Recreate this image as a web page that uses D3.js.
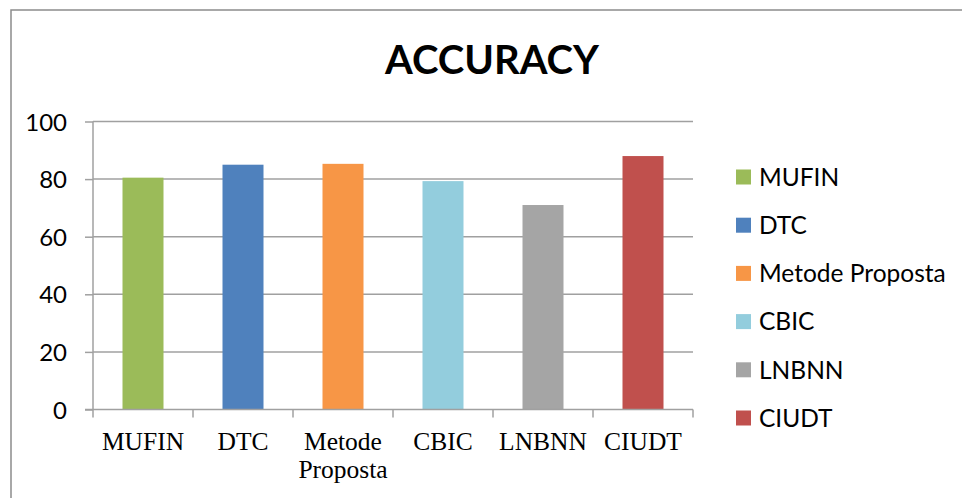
<!DOCTYPE html>
<html>
<head>
<meta charset="utf-8">
<script src="https://cdn.jsdelivr.net/npm/d3@7"></script>
<style>
  html, body { margin: 0; padding: 0; background: #fff; }
  svg { display: block; }
</style>
</head>
<body>
<svg id="chart" width="962" height="498"></svg>
<script>
const categories = ["MUFIN", "DTC", "Metode Proposta", "CBIC", "LNBNN", "CIUDT"];
const axisLabels = [["MUFIN"], ["DTC"], ["Metode", "Proposta"], ["CBIC"], ["LNBNN"], ["CIUDT"]];
const values = [80.5, 85, 85.3, 79.3, 71, 88];
const colors = ["#9BBB59", "#4F81BD", "#F79646", "#93CDDD", "#A5A5A5", "#C0504D"];
const yTicks = [0, 20, 40, 60, 80, 100];
const title = "ACCURACY";

const svg = d3.select("#chart");

// outer border
svg.append("rect")
  .attr("x", 11).attr("y", 10).attr("width", 970).attr("height", 510)
  .attr("fill", "none").attr("stroke", "#8c8c8c").attr("stroke-width", 1.5);

const plot = { left: 93, right: 693, top: 121.5, bottom: 409.5 };

const x = d3.scaleBand().domain(categories).range([plot.left, plot.right]).paddingInner(0.59).paddingOuter(0.295);
const xBand = d3.scaleBand().domain(categories).range([plot.left, plot.right]);
const y = d3.scaleLinear().domain([0, 100]).range([plot.bottom, plot.top]);

// gridlines
svg.append("g")
  .selectAll("line").data(yTicks.filter(t => t > 0)).join("line")
  .attr("x1", plot.left).attr("x2", plot.right)
  .attr("y1", d => y(d)).attr("y2", d => y(d))
  .attr("stroke", "#a0a0a0").attr("stroke-width", 1.5);

// bars
svg.append("g")
  .selectAll("rect").data(categories).join("rect")
  .attr("x", d => x(d))
  .attr("width", x.bandwidth())
  .attr("y", (d, i) => y(values[i]))
  .attr("height", (d, i) => y(0) - y(values[i]))
  .attr("fill", (d, i) => colors[i]);

// y axis
const yAxis = d3.axisLeft(y).tickValues(yTicks).tickSize(8).tickPadding(18);
const gy = svg.append("g").attr("transform", `translate(${plot.left},0)`).call(yAxis);
gy.select(".domain").attr("stroke", "#a0a0a0").attr("stroke-width", 1.5).attr("d", `M0,${plot.top}V${plot.bottom}`);
gy.selectAll(".tick line").attr("stroke", "#a0a0a0").attr("stroke-width", 1.5);
gy.selectAll(".tick text")
  .attr("font-family", "Lato, 'Open Sans', sans-serif")
  .attr("font-size", 24).attr("fill", "#000").attr("dy", "0.36em");

// x axis
const xAxis = d3.axisBottom(xBand).tickSize(0).tickFormat("");
const gx = svg.append("g").attr("transform", `translate(0,${plot.bottom})`).call(xAxis);
gx.select(".domain").attr("stroke", "#a0a0a0").attr("stroke-width", 1.5).attr("d", `M${plot.left - 8},0H${plot.right}`);
gx.selectAll("line.sep").data(d3.range(categories.length + 1)).join("line")
  .attr("class", "sep")
  .attr("x1", i => plot.left + i * xBand.step()).attr("x2", i => plot.left + i * xBand.step())
  .attr("y1", 0).attr("y2", 8)
  .attr("stroke", "#a0a0a0").attr("stroke-width", 1.5);

// x labels (serif)
const xl = svg.append("g");
categories.forEach((c, i) => {
  const cx = xBand(c) + xBand.bandwidth() / 2;
  axisLabels[i].forEach((line, j) => {
    xl.append("text")
      .attr("x", cx).attr("y", 449.5 + j * 28)
      .attr("text-anchor", "middle")
      .attr("font-family", "'Liberation Serif', 'Times New Roman', serif")
      .attr("font-size", 25.5)
      .attr("fill", "#000")
      .text(line);
  });
});

// title
svg.append("text")
  .attr("x", 492).attr("y", 74)
  .attr("text-anchor", "middle")
  .attr("font-family", "Lato, 'Open Sans', sans-serif")
  .attr("font-weight", "bold")
  .attr("font-size", 40)
  .attr("fill", "#000")
  .text(title);

// legend
const legend = svg.append("g");
const lg = legend.selectAll("g").data(categories).join("g")
  .attr("transform", (d, i) => `translate(736,${177 + i * 48.2})`);
lg.append("rect").attr("x", 0).attr("y", -7.5).attr("width", 15).attr("height", 15)
  .attr("fill", (d, i) => colors[i]);
lg.append("text").attr("x", 23).attr("y", 0).attr("dy", "0.36em")
  .attr("font-family", "Lato, 'Open Sans', sans-serif")
  .attr("font-size", 24.5).attr("fill", "#000")
  .text(d => d);
</script>
</body>
</html>
